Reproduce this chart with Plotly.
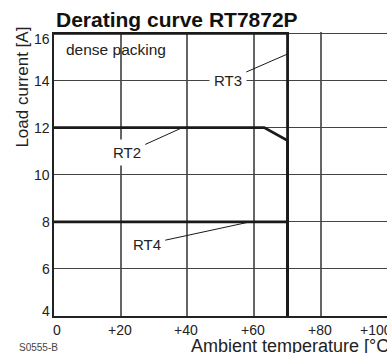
import plotly.graph_objects as go

# ---- data ----
rt3_temp = [0, 70, 70]
rt3_curr = [16, 16, 0]
rt2_temp = [0, 63, 70, 70]
rt2_curr = [12, 12, 11.45, 0]
rt4_temp = [0, 70, 70]
rt4_curr = [8, 8, 0]

x_ticks = [0, 20, 40, 60, 80, 100]
x_tick_labels = ["0", "+20", "+40", "+60", "+80", "+100"]
y_ticks = [4, 6, 8, 10, 12, 14, 16]
y_tick_labels = ["4", "6", "8", "10", "12", "14", "16"]

title_text = "Derating curve RT7872P"
x_title = "Ambient temperature [°C]"
y_title = "Load current [A]"
note_text = "dense packing"
code_text = "S0555-B"

X_MAX = 99.8
Y_MIN, Y_MAX = 4, 16.06
FONT = "Liberation Sans, Arial, Helvetica, sans-serif"
INK = "#1a1a1a"

fig = go.Figure()
for tx, cy, name in [(rt3_temp, rt3_curr, "RT3"), (rt2_temp, rt2_curr, "RT2"), (rt4_temp, rt4_curr, "RT4")]:
    fig.add_trace(go.Scatter(x=tx, y=cy, mode="lines", name=name,
                             line=dict(color=INK, width=2.8), showlegend=False,
                             hoverinfo="skip"))

ann = []
# title
ann.append(dict(text="<b>" + title_text + "</b>", xref="paper", yref="paper", x=0, y=1,
                xanchor="left", yanchor="bottom", xshift=0, yshift=-1.5, showarrow=False,
                font=dict(family=FONT, size=21, color="#111")))
# y tick labels
for v, t in zip(y_ticks, y_tick_labels):
    ys = 0
    if v == min(y_ticks):
        ys = 5
    elif v == max(y_ticks):
        ys = -6
    ann.append(dict(text=t, xref="paper", yref="y", x=0, y=v, xanchor="right", yanchor="middle",
                    xshift=-2, yshift=ys, showarrow=False,
                    font=dict(family=FONT, size=14, color="#222")))
# x tick labels
for v, t in zip(x_ticks, x_tick_labels):
    if v == min(x_ticks):
        xs = 3
    elif v == max(x_ticks):
        xs = -12
    else:
        xs = -1
    ann.append(dict(text=t, xref="paper", yref="paper", x=v / X_MAX, y=0, xanchor="center",
                    yanchor="middle", xshift=xs, yshift=-13.5, showarrow=False,
                    font=dict(family=FONT, size=14, color="#222")))
# axis titles
ann.append(dict(text=x_title, xref="paper", yref="paper", x=0.405, y=0, xanchor="left",
                yanchor="middle", yshift=-30, showarrow=False,
                font=dict(family=FONT, size=18, color="#222")))
ann.append(dict(text=y_title, xref="paper", yref="y", x=0, y=13.7, xanchor="center",
                yanchor="middle", xshift=-31, textangle=-90, showarrow=False,
                font=dict(family=FONT, size=17, color="#222")))
# note and drawing code
ann.append(dict(text=note_text, xref="x", yref="y", x=3, y=15.3, xanchor="left",
                yanchor="middle", showarrow=False,
                font=dict(family=FONT, size=15.5, color="#222")))
ann.append(dict(text=code_text, xref="paper", yref="paper", x=-0.112, y=0, xanchor="left",
                yanchor="middle", yshift=-31.5, showarrow=False,
                font=dict(family=FONT, size=10, color="#444")))
# curve labels with leader lines
for name, tx, ty, px, py in [("RT3", 52.1, 14.02, 69.9, 15.12),
                             ("RT2", 21.8, 10.93, 38.5, 12.0),
                             ("RT4", 27.8, 7.05, 58.2, 7.98)]:
    ann.append(dict(text=name, x=px, y=py, xref="x", yref="y", ax=tx, ay=ty,
                    axref="x", ayref="y", showarrow=True, arrowhead=0, arrowwidth=1,
                    arrowcolor=INK, bgcolor="white", borderpad=4, standoff=0,
                    font=dict(family=FONT, size=15, color="#222")))

fig.update_layout(
    width=387, height=353, autosize=False,
    margin=dict(l=54, r=0, t=32, b=37, pad=0),
    paper_bgcolor="white", plot_bgcolor="white",
    annotations=ann,
    xaxis=dict(range=[0, X_MAX], tickvals=x_ticks, showticklabels=False, ticks="",
               showgrid=True, gridcolor="#666", gridwidth=1.5, zeroline=False,
               showline=True, linecolor="#222", linewidth=1.6, mirror=False),
    yaxis=dict(range=[Y_MIN, Y_MAX], tickvals=y_ticks, showticklabels=False, ticks="",
               showgrid=True, gridcolor="#444", gridwidth=1.3, zeroline=False,
               showline=True, linecolor="#222", linewidth=1.8, mirror=False),
)

fig.write_html("out.html", config={"displayModeBar": False},
               post_script="document.body.style.margin='0';document.body.style.overflow='hidden';")
